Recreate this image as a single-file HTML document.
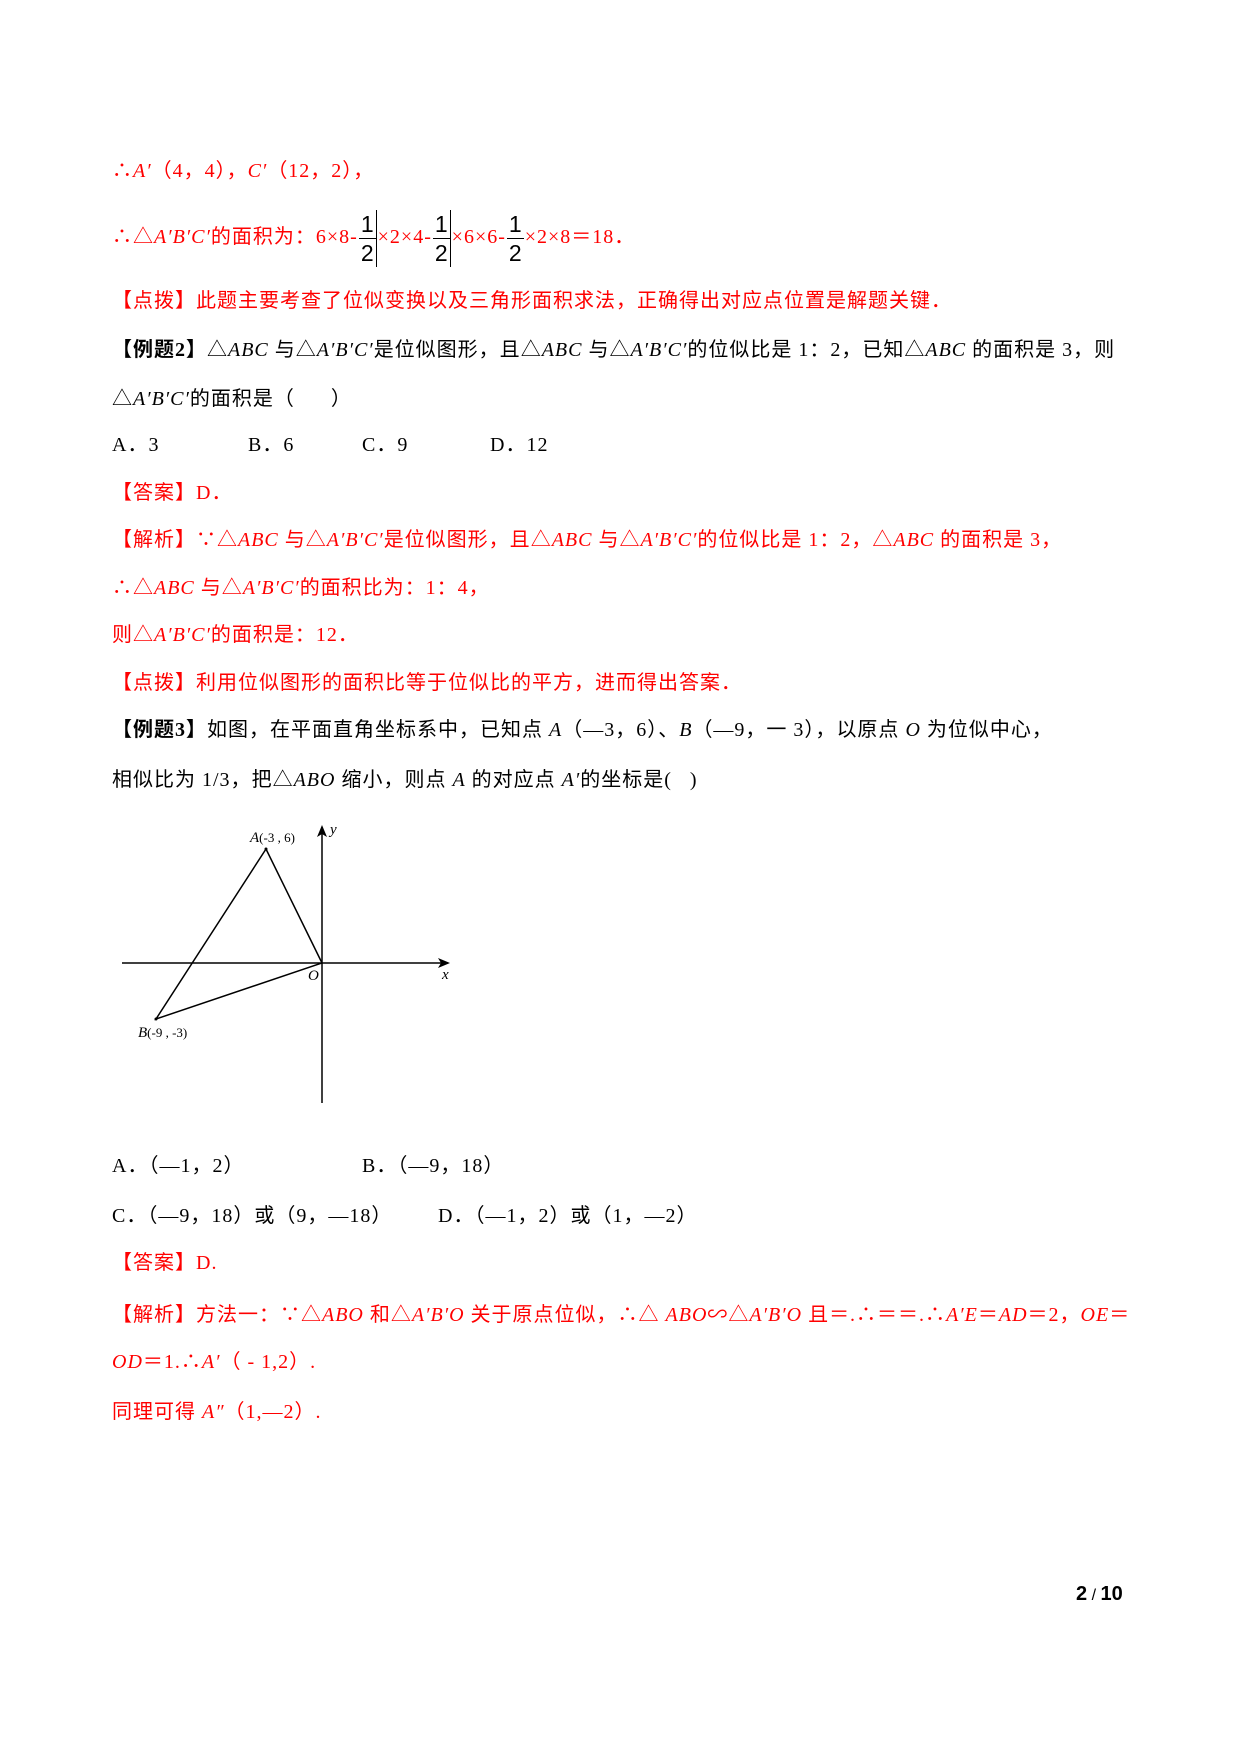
<!DOCTYPE html>
<html><head><meta charset="utf-8">
<style>
html,body{margin:0;padding:0;background:#fff;}
body{width:1240px;height:1754px;position:relative;overflow:hidden;font-family:"Liberation Serif","Noto Sans CJK SC",serif;font-size:20px;color:#000;}
.l{position:absolute;left:112px;white-space:nowrap;line-height:28px;letter-spacing:1px;}
.r{color:#f00;}
.c{font-family:"Noto Sans CJK SC","Liberation Sans",sans-serif;}
i{font-style:italic;font-family:"Liberation Serif",serif;}
b{font-weight:bold;}
.fr{display:inline-block;vertical-align:middle;text-align:center;color:#000;font-family:"Liberation Sans",sans-serif;line-height:28px;font-size:23px;margin:0 1px;letter-spacing:0;}
.fr span{display:block;}
.fr .n{border-bottom:1px solid #000;padding:0 2px;}
.bar{border-right:1.5px solid #000;}
</style></head><body>

<div class="l r" style="top:157px;">∴<i>A′</i>（4，4），<i>C′</i>（12，2），</div>

<div class="l r" style="top:210px;">∴△<i>A′B′C′</i><span class="c">的面积为</span>：6×8-<span class="fr bar"><span class="n">1</span><span>2</span></span>×2×4-<span class="fr bar"><span class="n">1</span><span>2</span></span>×6×6-<span class="fr"><span class="n">1</span><span>2</span></span>×2×8＝18．</div>

<div class="l r c" style="top:285px;">【点拨】此题主要考查了位似变换以及三角形面积求法，正确得出对应点位置是解题关键．</div>

<div class="l" style="top:334px;"><b class="c">【例题</b><b>2</b><b class="c">】</b>△<i>ABC</i> <span class="c">与</span>△<i>A′B′C′</i><span class="c">是位似图形，且</span>△<i>ABC</i> <span class="c">与</span>△<i>A′B′C′</i><span class="c">的位似比是</span> 1：2，<span class="c">已知</span>△<i>ABC</i> <span class="c">的面积是</span> 3，<span class="c">则</span></div>

<div class="l" style="top:383px;">△<i>A′B′C′</i><span class="c">的面积是</span>（&nbsp;&nbsp;&nbsp;&nbsp;&nbsp;&nbsp;）</div>

<div class="l" style="top:431px;">A．3</div>
<div class="l" style="top:431px;left:248px;">B．6</div>
<div class="l" style="top:431px;left:362px;">C．9</div>
<div class="l" style="top:431px;left:490px;">D．12</div>

<div class="l r" style="top:477px;"><span class="c">【答案】</span>D．</div>

<div class="l r" style="top:524px;"><span class="c">【解析】</span>∵△<i>ABC</i> <span class="c">与</span>△<i>A′B′C′</i><span class="c">是位似图形，且</span>△<i>ABC</i> <span class="c">与</span>△<i>A′B′C′</i><span class="c">的位似比是</span> 1：2，△<i>ABC</i> <span class="c">的面积是</span> 3，</div>

<div class="l r" style="top:572px;">∴△<i>ABC</i> <span class="c">与</span>△<i>A′B′C′</i><span class="c">的面积比为</span>：1：4，</div>

<div class="l r" style="top:619px;"><span class="c">则</span>△<i>A′B′C′</i><span class="c">的面积是</span>：12．</div>

<div class="l r c" style="top:667px;">【点拨】利用位似图形的面积比等于位似比的平方，进而得出答案．</div>

<div class="l" style="top:714px;"><b class="c">【例题</b><b>3</b><b class="c">】</b><span class="c">如图，在平面直角坐标系中，已知点</span> <i>A</i>（—3，6）、<i>B</i>（—9，一 3），<span class="c">以原点</span> <i>O</i> <span class="c">为位似中心，</span></div>

<div class="l" style="top:764px;"><span class="c">相似比为</span> 1/3，<span class="c">把</span>△<i>ABO</i> <span class="c">缩小，则点</span> <i>A</i> <span class="c">的对应点</span> <i>A′</i><span class="c">的坐标是</span>(&nbsp;&nbsp;&nbsp;)</div>

<svg style="position:absolute;left:0;top:0" width="1240" height="1754">
<g stroke="#000" stroke-width="1.5" fill="none">
<line x1="122" y1="963" x2="448" y2="963"/>
<line x1="322" y1="1103" x2="322" y2="827"/>
<polyline points="266,849 322,963 156,1019 266,849"/>
</g>
<polygon points="450,963 438,958 441,963 438,968" fill="#000"/>
<polygon points="322,825 317,837 322,834 327,837" fill="#000"/>
<circle cx="266" cy="849" r="1.5" fill="#000"/>
<circle cx="156" cy="1019" r="1.5" fill="#000"/>
<g font-family="Liberation Serif,serif" font-size="13" fill="#000">
<text x="250" y="842"><tspan font-style="italic" font-size="15">A</tspan>(-3 , 6)</text>
<text x="330" y="834" font-style="italic" font-size="15">y</text>
<text x="442" y="979" font-style="italic" font-size="15">x</text>
<text x="308" y="980" font-style="italic" font-size="15">O</text>
<text x="138" y="1037"><tspan font-style="italic" font-size="15">B</tspan>(-9 , -3)</text>
</g>
</svg>

<div class="l" style="top:1152px;">A．（—1，2）</div>
<div class="l" style="top:1152px;left:362px;">B．（—9，18）</div>

<div class="l" style="top:1200px;">C．（—9，18）<span class="c">或</span>（9，—18）</div>
<div class="l" style="top:1200px;left:438px;">D．（—1，2）<span class="c">或</span>（1，—2）</div>

<div class="l r" style="top:1247px;"><span class="c">【答案】</span>D.</div>

<div class="l r" style="top:1299px;"><span class="c">【解析】方法一：</span>∵△<i>ABO</i> <span class="c">和</span>△<i>A′B′O</i> <span class="c">关于原点位似，</span>∴△ <i>ABO</i>∽△<i>A′B′O</i> <span class="c">且</span>＝.∴＝＝.∴<i>A′E</i>＝<i>AD</i>＝2，<i>OE</i>＝</div>

<div class="l r" style="top:1348px;"><i>OD</i>＝1.∴<i>A′</i>（ - 1,2）.</div>

<div class="l r" style="top:1396px;"><span class="c">同理可得</span> <i>A″</i>（1,—2）.</div>

<div class="l" style="top:1580px;left:1076px;font-family:'Liberation Sans',sans-serif;font-weight:bold;letter-spacing:0;">2<span style="font-weight:normal;font-size:16px;"> / </span>10</div>

</body></html>
